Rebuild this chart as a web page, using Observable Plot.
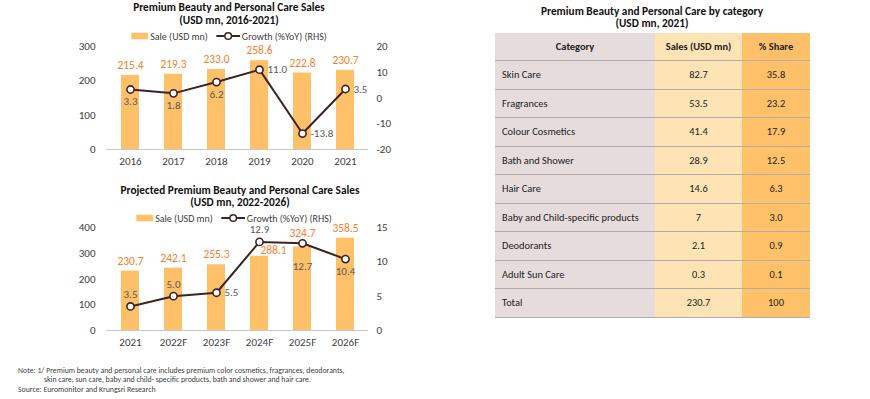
<!DOCTYPE html>
<html><head><meta charset="utf-8">
<script src="https://cdn.jsdelivr.net/npm/d3@7"></script>
<script src="https://cdn.jsdelivr.net/npm/@observablehq/plot@0.6"></script>
<style>
body{margin:0;width:870px;height:399px;position:relative;background:#fff;font-family:Carlito,Lato,"Open Sans",sans-serif;overflow:hidden;color:#404040}
.abs{position:absolute}
.title{font-weight:bold;font-size:11.3px;line-height:12.6px;color:#111;text-align:center;white-space:nowrap;transform:translateX(-50%)}
.legend{display:flex;align-items:center;font-size:10px;color:#404040;white-space:nowrap;transform:translate(-50%,-50%)}
.legend svg{margin-right:2px}
table{border-collapse:separate;border-spacing:0;font-size:10.4px;color:#222}
td,th{padding:0;border-bottom:1.5px solid #b3abab;box-sizing:border-box}
th{height:28px;font-weight:bold}
td{height:28.5px}
td.c{padding-left:7px;text-align:left}
td.s,td.p,th.s,th.p{text-align:center}
.c{background:#e6dcdc}.s{background:#fee4b4}.p{background:#fec068}
.note{font-size:7.8px;color:#404040;line-height:9.5px;white-space:nowrap}
</style></head>
<body>
<script>
// ---------- data ----------
const years1 = ["2016","2017","2018","2019","2020","2021"];
const sales1 = [215.4, 219.3, 233.0, 258.6, 222.8, 230.7];
const growth1 = [3.3, 1.8, 6.2, 11.0, -13.8, 3.5];
const leftTicks1 = [0, 100, 200, 300];
const rightTicks1 = [-20, -10, 0, 10, 20];

const years2 = ["2021","2022F","2023F","2024F","2025F","2026F"];
const sales2 = [230.7, 242.1, 255.3, 288.1, 324.7, 358.5];
const growth2 = [3.5, 5.0, 5.5, 12.9, 12.7, 10.4];
const leftTicks2 = [0, 100, 200, 300, 400];
const rightTicks2 = [0, 5, 10, 15];

const tableHeader = ["Category", "Sales (USD mn)", "% Share"];
const categories = ["Skin Care","Fragrances","Colour Cosmetics","Bath and Shower","Hair Care","Baby and Child-specific products","Deodorants","Adult Sun Care","Total"];
const catSales = ["82.7","53.5","41.4","28.9","14.6","7","2.1","0.3","230.7"];
const catShare = ["35.8","23.2","17.9","12.5","6.3","3.0","0.9","0.1","100"];

const FONT = 'Carlito, Lato, "Open Sans", sans-serif';
const BAR = "#fec068", LINE = "#3d2323", ORANGE = "#f47f2c", GREY = "#595959";

function addDiv(cls, left, top, html) {
  const d = document.createElement("div");
  d.className = "abs " + cls;
  d.style.left = left + "px"; d.style.top = top + "px";
  d.innerHTML = html;
  document.body.appendChild(d);
  return d;
}
function legend(cx, cy) {
  addDiv("legend", cx, cy,
    `<svg width="17" height="7"><rect width="17" height="7" fill="${BAR}"/></svg><span style="margin-right:8px">Sale (USD mn)</span>` +
    `<svg width="24" height="9"><line x1="0" y1="4.5" x2="24" y2="4.5" stroke="${LINE}" stroke-width="2"/><circle cx="12" cy="4.5" r="3.3" fill="#fff" stroke="${LINE}" stroke-width="1.5"/></svg><span>Growth (%YoY) (RHS)</span>`);
}

function dualChart(o) {
  const data = o.years.map((y, i) => ({year: y, sale: o.sales[i], growth: o.growth[i], i}));
  const g2y = g => (g - o.gMin) / (o.gMax - o.gMin) * o.yMax;
  const y2g = v => Math.round(o.gMin + v / o.yMax * (o.gMax - o.gMin));
  const gy = d => g2y(d.growth);
  const lab = (set, opts) => Plot.text(data, {x: "year", y: gy, text: d => d.growth.toFixed(1),
    filter: d => set.includes(d.i), fill: GREY, fontSize: 11, ...opts});
  const saleLab = (set, opts) => Plot.text(data, {x: "year", y: "sale", text: d => d.sale.toFixed(1),
    filter: d => set.includes(d.i), fill: ORANGE, fontSize: 11.5, ...opts});
  const shifted = o.saleShift || [];
  const high = o.saleHigh || [];
  const normal = data.map(d => d.i).filter(i => !shifted.includes(i) && !high.includes(i));
  return Plot.plot({
    width: 400, height: 134, marginLeft: 106, marginRight: 32, marginTop: 6, marginBottom: 25,
    style: {fontFamily: FONT, fontSize: "11px", color: "#404040", background: "transparent", overflow: "visible"},
    x: {domain: o.years, paddingInner: 0.59, paddingOuter: 0.295, label: null},
    y: {domain: [0, o.yMax], label: null},
    marks: [
      Plot.axisX({tickSize: 0, tickPadding: 8, label: null, fontSize: 11}),
      Plot.axisY(o.leftTicks, {tickSize: 0, tickPadding: 11, label: null, fontSize: 11}),
      Plot.axisY(o.rightTicks.map(g2y), {anchor: "right", tickSize: 0, tickPadding: 8, label: null, fontSize: 11, tickFormat: v => String(y2g(v))}),
      Plot.barY(data, {x: "year", y: "sale", fill: BAR}),
      Plot.ruleY([0], {stroke: "#c8c8c8", strokeWidth: 1}),
      Plot.line(data, {x: "year", y: gy, stroke: LINE, strokeWidth: 2}),
      Plot.dot(data, {x: "year", y: gy, r: 3.6, fill: "#fff", stroke: LINE, strokeWidth: 1.6}),
      saleLab(normal, {dy: -10}),
      saleLab(high, {dy: -14}),
      saleLab(shifted, {dy: -6, dx: 14}),
      lab(o.below, {dy: 12}),
      lab(o.below2 || [], {dy: 23}),
      lab(o.above, {dy: -12}),
      lab(o.right, {dx: 8, textAnchor: "start"})
    ]
  });
}

// ---------- top chart ----------
addDiv("title", 229, 1, "Premium Beauty and Personal Care Sales<br>(USD mn, 2016-2021)");
legend(229, 36);
const c1 = dualChart({years: years1, sales: sales1, growth: growth1, yMax: 300, gMin: -20, gMax: 20,
  leftTicks: leftTicks1, rightTicks: rightTicks1, below: [0, 1, 2], above: [], right: [3, 4, 5]});
addDiv("", 0, 40, "").appendChild(c1);

// ---------- bottom chart ----------
addDiv("title", 240, 183.5, "Projected Premium Beauty and Personal Care Sales<br>(USD mn, 2022-2026)");
legend(234, 218);
const c2 = dualChart({years: years2, sales: sales2, growth: growth2, yMax: 400, gMin: 0, gMax: 15,
  leftTicks: leftTicks2, rightTicks: rightTicks2, below: [5], below2: [4], above: [0, 1, 3], right: [2],
  saleShift: [3], saleHigh: [4]});
addDiv("", 0, 221, "").appendChild(c2);

// ---------- table ----------
addDiv("title", 652, 4.5, "Premium Beauty and Personal Care by category<br>(USD mn, 2021)");
let html = `<table style="width:315px;table-layout:fixed"><colgroup><col style="width:160px"><col style="width:87px"><col style="width:68px"></colgroup>`;
html += `<tr><th class="c">${tableHeader[0]}</th><th class="s">${tableHeader[1]}</th><th class="p">${tableHeader[2]}</th></tr>`;
categories.forEach((c, i) => {
  html += `<tr><td class="c">${c}</td><td class="s">${catSales[i]}</td><td class="p">${catShare[i]}</td></tr>`;
});
html += "</table>";
addDiv("", 495, 33, html);

// ---------- notes ----------
addDiv("note", 18, 365.5, "Note: 1/ Premium beauty and personal care includes premium color cosmetics, fragrances, deodorants,<br><span style='padding-left:26px'>skin care, sun care, baby and child- specific products, bath and shower and hair care.</span>");
addDiv("note", 18, 385, "Source: Euromonitor and Krungsri Research");
</script>
</body></html>
